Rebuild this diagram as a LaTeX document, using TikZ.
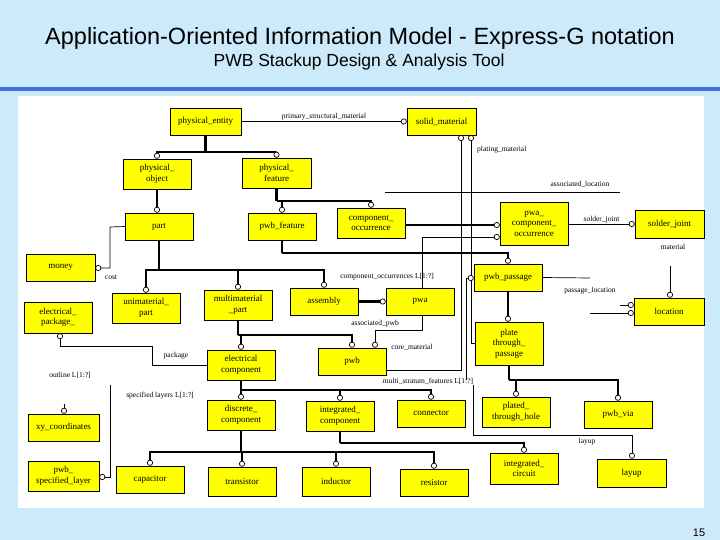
\documentclass[tikz,border=0pt]{standalone}
\usepackage{fontspec}
\setmainfont{Liberation Serif}
\newfontfamily\hd{Liberation Sans}
\usetikzlibrary{arrows.meta}
\definecolor{bgb}{RGB}{204,234,250}
\definecolor{bln}{RGB}{60,110,230}
\definecolor{yel}{RGB}{255,255,0}
\tikzset{
 box/.style={fill=yel,draw=black,line width=0.5pt,inner sep=1pt,align=center,font=\fontsize{9}{10.5}\selectfont},
 tr/.style={line width=2.2pt,-{Circle[open,fill=white,length=6pt,width=6pt,line width=0.7pt]}},
 trl/.style={line width=2.2pt},
 rl/.style={line width=0.7pt,-{Circle[open,fill=white,length=6pt,width=6pt]}},
 rp/.style={line width=0.7pt},
 lb/.style={font=\fontsize{7.5}{8.5}\selectfont,inner sep=1pt}
}
\newcommand\bx[6]{\node[box,minimum width={(#4-#2)*1pt},minimum height={(#5-#3)*1pt}] (#1) at ({(#2+#4)/2},{(#3+#5)/2}) {#6};}
\begin{document}
\begin{tikzpicture}[x=1pt,y=-1pt]
\useasboundingbox (0,0) rectangle (720,540);
\fill[bgb] (0,0) rectangle (720,540);
\fill[bln] (0,87) rectangle (720,91);
\fill[white] (18,96) rectangle (704,508);
\node[font=\hd\fontsize{23.5}{27}\selectfont] (title) at (360,38) {Application-Oriented Information Model - Express-G notation};
\node[font=\hd\fontsize{17.5}{20}\selectfont] (sub) at (359,62) {PWB Stackup Design \& Analysis Tool};
\node[font=\hd\fontsize{11}{13}\selectfont] (pg) at (699,533) {15};
% boxes
\bx{pe}{170}{108}{241}{135}{physical\_entity}
\bx{sm}{407}{108}{476}{135}{solid\_material}
\bx{po}{123}{159}{191}{189}{physical\_\\object}
\bx{pf}{242}{158}{311}{188}{physical\_\\feature}
\bx{part}{125}{213}{193}{240}{part}
\bx{pwbf}{248}{213}{316}{240}{pwb\_feature}
\bx{co}{337}{208}{405}{238}{component\_\\occurrence}
\bx{pco}{500}{202}{568}{245}{pwa\_\\component\_\\occurrence}
\bx{sj}{635}{210}{704}{238}{solder\_joint}
\bx{money}{26}{254}{95}{281}{money}
\bx{pp}{474}{264}{542}{291}{pwb\_passage}
\bx{loc}{634}{298}{704}{325}{location}
\bx{ep}{24}{302}{92}{333}{electrical\_\\package\_}
\bx{up}{112}{293}{180}{323}{unimaterial\_\\part}
\bx{mp}{204}{290}{272}{320}{multimaterial\\\_part}
\bx{asm}{290}{288}{358}{315}{assembly}
\bx{pwa}{386}{288}{454}{315}{pwa}
\bx{pwb}{318}{348}{386}{375}{pwb}
\bx{ptp}{475}{322}{543}{365}{plate\\through\_\\passage}
\bx{ec}{207}{350}{275}{380}{electrical\\component}
\bx{dc}{207}{400}{275}{430}{discrete\_\\component}
\bx{ic}{306}{401}{374}{431}{integrated\_\\component}
\bx{con}{397}{400}{465}{427}{connector}
\bx{pth}{482}{397}{550}{427}{plated\_\\through\_hole}
\bx{via}{584}{401}{652}{428}{pwb\_via}
\bx{xy}{28}{414}{99}{441}{xy\_coordinates}
\bx{lay}{597}{459}{666}{487}{layup}
\bx{icc}{490}{453}{558}{484}{integrated\_\\circuit}
\bx{psl}{28}{461}{99}{491}{pwb\_\\specified\_layer}
\bx{cap}{116}{466}{184}{493}{capacitor}
\bx{tra}{208}{467}{276}{496}{transistor}
\bx{ind}{302}{467}{370}{496}{inductor}
\bx{res}{400}{469}{468}{496}{resistor}
% subtype trees
\draw[trl] (pe.south) -- ++(0,17) coordinate (t1);
\draw[tr] (t1) -| (po.north);
\draw[tr] (t1) -| (pf.north);
\draw[tr] (po.south) -- (po.south |- part.north);
\draw[trl] (pf.south) -- ++(0,13) coordinate (t2);
\draw[tr] (t2) -| (pwbf.north);
\draw[tr] (t2) -| (co.north);
\draw[trl] (pwbf.south) -- ++(0,13) coordinate (t3);
\draw[tr] (t3) -| (pp.north);
\draw[trl] (part.south) -- ++(0,30) coordinate (t4);
\draw[tr] (t4) -| (up.north);
\draw[tr] (t4) -| (mp.north);
\draw[tr] (t4) -| (asm.north);
\draw[trl] (mp.south) -- ++(0,15) coordinate (t5);
\draw[tr] (t5) -| (ec.north);
\draw[tr] (t5) -| (pwb.north);
\draw[trl] (ec.south) -- ++(0,10) coordinate (t6);
\draw[tr] (t6) -| (dc.north);
\draw[tr] (t6) -| (ic.north);
\draw[tr] (t6) -| (con.north);
\draw[trl] (dc.south) -- ++(0,22) coordinate (t7);
\draw[tr] (t7) -| (cap.north);
\draw[tr] (t7) -| (tra.north);
\draw[tr] (t7) -| (ind.north);
\draw[tr] (t7) -| (res.north);
\draw[trl] (ic.south) -- ++(0,12) coordinate (t8);
\draw[tr] (t8) -| (icc.north);
\draw[tr] (pp.south) -- (pp.south |- ptp.north);
\draw[trl] (ptp.south) -- ++(0,15) coordinate (t9);
\draw[tr] (t9) -| (pth.north);
\draw[tr] (t9) -| (via.north);
\draw[tr] (asm.east) -- (pwa.west);
\draw[tr] (co.east |- 0,225) -- (pco.west |- 0,225);
% relations
\draw[rl] (pe.east) -- node[lb,above]{primary\_structural\_material} (sm.west);
\draw[rl] (pwb.east |- 0,370) -- (461,370) -- (461,135);
\draw[rl] (ptp.west |- 0,343) -- (471,343) -- (471,135);
\node[lb,anchor=west] (lpm) at (476,150) {plating\_material};
\node[lb] (lcm) at (412,347) {core\_material};
\draw[rl] (466,380) -- (466,278) -- (pp.west |- 0,278);
\node[lb] (lms) at (428,381) {multi\_stratum\_features L[1:?]};
\draw[rl] (473,385) -- (473,435) -- (632,435) -- (lay.north -| 632,0);
\node[lb] (llay) at (587,442) {layup};
\coordinate (al1) at (385,192); \coordinate (al2) at (620,192);
\draw[rp] (al1) -- (al2);
\node[lb] (lal) at (580,184) {associated\_location};
\draw[rl] (pwa.north -| 422,0) -- (422,237) -- (pco.west |- 0,237);
\draw[rl] (pwa.south -| 422,0) -- (422,330) -- (375,330) -- (pwb.north -| 375,0);
\node[lb] (lap) at (375,324) {associated\_pwb};
\draw[rl] (pco.east |- 0,224) -- node[lb,above]{solder\_joint} (sj.west |- 0,224);
\node[lb] (lmat) at (673,247) {material};
\draw[rl] (670,266) -- (loc.north -| 670,0);
\draw[rp] (pp.east) -- (590,278);
\draw[rl] (590,313) -- (loc.west |- 0,313);
\draw[rl] (620,305) -- (loc.west |- 0,305);
\node[lb] (lpl) at (590,291) {passage\_location};
\node[lb] (lco) at (387,277) {component\_occurrences L[1:?]};
\draw[rl] (part.west) -- (110,227) -- (110,268) -- (money.east |- 0,268);
\node[lb] (lcost) at (111,277) {cost};
\draw[rl] (ec.west) -- (152,365) -- (152,346) -- (60,346) -- (ep.south -| 60,0);
\node[lb] (lpk) at (176,356) {package};
\node[lb] (lout) at (70,375) {outline L[1:?]};
\draw[rl] (64,404) -- (xy.north -| 64,0);
\draw[rl] (110,385) -- (110,477) -- (psl.east |- 0,477);
\node[lb] (lsl) at (160,396) {specified layers L[1:?]};
\end{tikzpicture}
\end{document}
